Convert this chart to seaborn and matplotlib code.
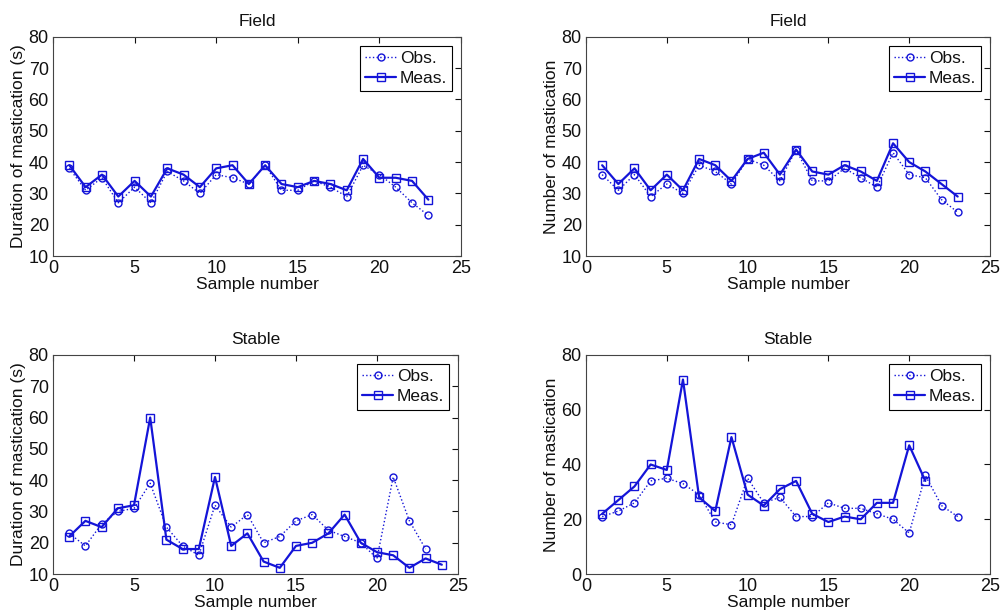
import numpy as np
import pandas as pd
import seaborn as sns
import matplotlib.pyplot as plt

# Field - duration of mastication (s)
field_dur_obs = [38, 31, 35, 27, 32, 27, 37, 34, 30, 36, 35, 33, 39, 31, 31, 34, 32, 29, 39, 36, 32, 27, 23]
field_dur_meas = [39, 32, 36, 29, 34, 29, 38, 36, 32, 38, 39, 33, 39, 33, 32, 34, 33, 31, 41, 35, 35, 34, 28]

# Field - number of mastication
field_num_obs = [36, 31, 36, 29, 33, 30, 39, 37, 33, 41, 39, 34, 44, 34, 34, 38, 35, 32, 43, 36, 35, 28, 24]
field_num_meas = [39, 33, 38, 31, 36, 31, 41, 39, 34, 41, 43, 36, 44, 37, 36, 39, 37, 34, 46, 40, 37, 33, 29]

# Stable - duration of mastication (s)
stable_dur_obs = [23, 19, 26, 30, 31, 39, 25, 19, 16, 32, 25, 29, 20, 22, 27, 29, 24, 22, 20, 15, 41, 27, 18]
stable_dur_meas = [22, 27, 25, 31, 32, 60, 21, 18, 18, 41, 19, 23, 14, 12, 19, 20, 23, 29, 20, 17, 16, 12, 15, 13]

# Stable - number of mastication
stable_num_obs = [21, 23, 26, 34, 35, 33, 29, 19, 18, 35, 26, 28, 21, 21, 26, 24, 24, 22, 20, 15, 36, 25, 21]
stable_num_meas = [22, 27, 32, 40, 38, 71, 28, 23, 50, 29, 25, 31, 34, 22, 19, 21, 20, 26, 26, 47, 34]

panels = [
    ("Field", "Duration of mastication (s)", field_dur_obs, field_dur_meas, (10, 80), [10, 20, 30, 40, 50, 60, 70, 80]),
    ("Field", "Number of mastication", field_num_obs, field_num_meas, (10, 80), [10, 20, 30, 40, 50, 60, 70, 80]),
    ("Stable", "Duration of mastication (s)", stable_dur_obs, stable_dur_meas, (10, 80), [10, 20, 30, 40, 50, 60, 70, 80]),
    ("Stable", "Number of mastication", stable_num_obs, stable_num_meas, (0, 80), [0, 20, 40, 60, 80]),
]

sns.set_style("white")
plt.rcParams['font.family'] = ['Liberation Sans', 'DejaVu Sans']
plt.rcParams['text.color'] = '#111111'
plt.rcParams['axes.labelcolor'] = '#111111'
plt.rcParams['xtick.color'] = '#111111'
plt.rcParams['ytick.color'] = '#111111'

fig = plt.figure(figsize=(10, 6.14), dpi=100)
rects = [
    [0.053, 0.583, 0.408, 0.357],
    [0.586, 0.583, 0.404, 0.357],
    [0.053, 0.065, 0.405, 0.357],
    [0.586, 0.065, 0.404, 0.357],
]
blue = '#1414d8'

for rect, (title, ylab, obs, meas, ylim, yticks) in zip(rects, panels):
    ax = fig.add_axes(rect)
    obs_df = pd.DataFrame({'x': np.arange(1, len(obs) + 1), 'y': obs})
    meas_df = pd.DataFrame({'x': np.arange(1, len(meas) + 1), 'y': meas})
    sns.lineplot(data=obs_df, x='x', y='y', ax=ax, color=blue, linestyle=':', linewidth=1.0,
                 marker='o', markersize=5, markerfacecolor='none', markeredgecolor=blue,
                 markeredgewidth=1.0, label='Obs.')
    sns.lineplot(data=meas_df, x='x', y='y', ax=ax, color=blue, linestyle='-', linewidth=1.6,
                 marker='s', markersize=6, markerfacecolor='none', markeredgecolor=blue,
                 markeredgewidth=1.0, label='Meas.')
    ax.set_xlim(0, 25)
    ax.set_ylim(*ylim)
    ax.set_xticks([0, 5, 10, 15, 20, 25])
    ax.set_yticks(yticks)
    ax.set_title(title, fontsize=12.5, pad=8)
    ax.set_ylabel(ylab, fontsize=12.5, labelpad=2)
    ax.set_xlabel('Sample number', fontsize=12.5, labelpad=0)
    ax.tick_params(direction='in', top=True, right=True, length=4, labelsize=13)
    ax.tick_params(axis='x', pad=3)
    ax.tick_params(axis='y', pad=3)
    for s in ax.spines.values():
        s.set_color('#444444')
        s.set_linewidth(0.8)
    leg = ax.legend(loc='upper right', fancybox=False, edgecolor='black', framealpha=1,
                    handlelength=1.8, handletextpad=0.2, borderpad=0.3, labelspacing=0.3,
                    borderaxespad=0.5, fontsize=12.5)
    leg.get_frame().set_linewidth(0.8)

fig.savefig('out.png', dpi=100)
